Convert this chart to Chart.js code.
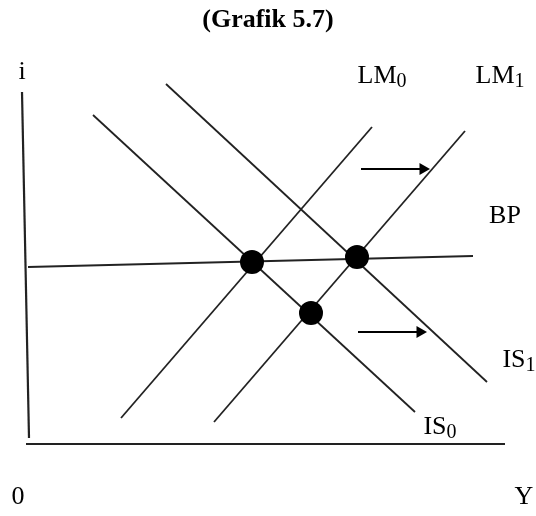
<!DOCTYPE html>
<html>
<head>
<meta charset="utf-8">
<script src="https://cdn.jsdelivr.net/npm/chart.js@4.4.0/dist/chart.umd.min.js"></script>
<style>
  html, body { margin: 0; padding: 0; background: #fff; }
  #wrap { width: 536px; height: 516px; }
</style>
</head>
<body>
<div id="wrap"><canvas id="c" width="536" height="516"></canvas></div>
<script>
// Data units: x = income Y, y = interest rate i (origin at the axes' corner)
const axisI = [{x: -5, y: 352}, {x: 2, y: 6}];
const axisY = [{x: -1, y: 0}, {x: 478, y: 0}];
const BP  = [{x: 1, y: 177}, {x: 446, y: 188}];
const IS0 = [{x: 66, y: 329}, {x: 388, y: 32}];
const IS1 = [{x: 139, y: 360}, {x: 460, y: 62}];
const LM0 = [{x: 94, y: 26}, {x: 345, y: 317}];
const LM1 = [{x: 187, y: 22}, {x: 438, y: 313}];
const equilibria = [{x: 225, y: 182}, {x: 330, y: 187}, {x: 284, y: 131}];
const arrowUpper = [{x: 334, y: 275}, {x: 396, y: 275}];
const arrowLower = [{x: 331, y: 112}, {x: 393, y: 112}];

const titleText = '(Grafik 5.7)';
const labels = [
  {t: 'i',   s: '',  x: -5,  y: 372},
  {t: 'LM',  s: '0', x: 355, y: 368},
  {t: 'LM',  s: '1', x: 473, y: 368},
  {t: 'BP',  s: '',  x: 478, y: 228},
  {t: 'IS',  s: '1', x: 492, y: 84},
  {t: 'IS',  s: '0', x: 413, y: 17},
  {t: '0',   s: '',  x: -9,  y: -53},
  {t: 'Y',   s: '',  x: 497, y: -53}
];

const LINE = '#222';
function seg(data, w) {
  return {type: 'line', data: data, borderColor: LINE, borderWidth: w || 1.8,
          pointRadius: 0, fill: false, tension: 0, clip: false, order: 1};
}
function arrow(data) {
  return {type: 'line', data: data, borderColor: '#000', borderWidth: 1.8,
          backgroundColor: '#000', fill: false, clip: false, order: 0,
          pointStyle: 'triangle',
          pointRadius: (c) => c.dataIndex === data.length - 1 ? 7 : 0,
          pointRotation: 90, pointBorderWidth: 0};
}

const FONT = '"Liberation Serif", "Times New Roman", serif';
const textPlugin = {
  id: 'texts',
  afterDraw(chart) {
    const ctx = chart.ctx, xs = chart.scales.x, ys = chart.scales.y;
    ctx.save();
    ctx.fillStyle = '#000';
    ctx.textBaseline = 'middle';
    ctx.textAlign = 'center';
    ctx.font = 'bold 26px ' + FONT;
    ctx.fillText(titleText, xs.getPixelForValue(241), ys.getPixelForValue(424));
    for (const l of labels) {
      const px = xs.getPixelForValue(l.x), py = ys.getPixelForValue(l.y);
      ctx.font = '26px ' + FONT;
      const w1 = ctx.measureText(l.t).width;
      ctx.font = '20px ' + FONT;
      const w2 = l.s ? ctx.measureText(l.s).width : 0;
      const x0 = px - (w1 + w2) / 2;
      ctx.textAlign = 'left';
      ctx.font = '26px ' + FONT;
      ctx.fillText(l.t, x0, py);
      if (l.s) {
        ctx.font = '20px ' + FONT;
        ctx.fillText(l.s, x0 + w1, py + 6);
      }
    }
    ctx.restore();
  }
};

new Chart(document.getElementById('c'), {
  type: 'scatter',
  data: {
    datasets: [
      seg(axisI, 2.2), seg(axisY, 2.2), seg(BP), seg(IS0), seg(IS1), seg(LM0), seg(LM1),
      arrow(arrowUpper), arrow(arrowLower),
      {type: 'scatter', data: equilibria, backgroundColor: '#000', borderColor: '#000',
       pointRadius: 12, pointBorderWidth: 0, clip: false, order: -1}
    ]
  },
  options: {
    responsive: false,
    animation: false,
    layout: {padding: 0, autoPadding: false},
    plugins: {legend: {display: false}, tooltip: {enabled: false}, title: {display: false}},
    scales: {
      x: {type: 'linear', min: -27, max: 509, display: false},
      y: {type: 'linear', min: -72, max: 444, display: false}
    }
  },
  plugins: [textPlugin]
});
</script>
</body>
</html>
